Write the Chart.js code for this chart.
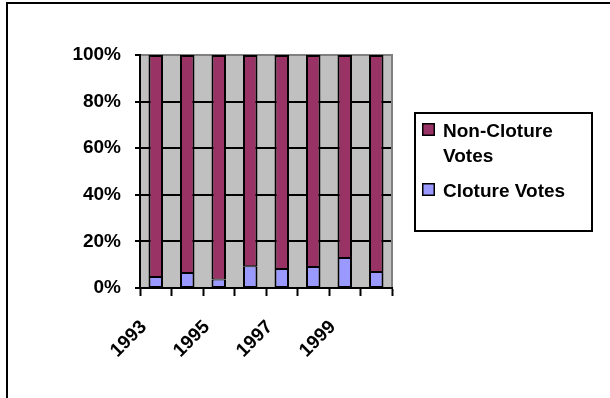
<!DOCTYPE html>
<html>
<head>
<meta charset="utf-8">
<script src="https://cdn.jsdelivr.net/npm/chart.js@4.4.1/dist/chart.umd.min.js"></script>
<style>
  html, body { margin: 0; padding: 0; background: #fff; overflow: hidden; }
  #wrap { position: relative; width: 610px; height: 398px; }
  #c { position: absolute; left: 0; top: 0; }
</style>
</head>
<body>
<div id="wrap">
  <canvas id="c" width="610" height="398"></canvas>
</div>
<script>
// Senate roll-call votes by year, as a share of all votes
const years = ['1993', '1994', '1995', '1996', '1997', '1998', '1999', '2000'];
const clotureVotes    = [4.7, 6.4, 3.6, 9.3, 8.2, 9.0, 12.9, 6.9];
const nonClotureVotes = [95.3, 93.6, 96.4, 90.7, 91.8, 91.0, 87.1, 93.1];
const percentTicks = [0, 20, 40, 60, 80, 100];

const FAMILY = '"Liberation Sans", Arial, sans-serif';
const FONT = { family: FAMILY, size: 19, weight: 'bold' };

// Gray plot background, black gridlines, gray top/right frame; outer frame and boxed legend
const chartDecor = {
  id: 'chartDecor',
  beforeDraw(chart) {
    const { ctx, chartArea: a } = chart;
    const y = chart.scales.y;
    ctx.save();
    ctx.fillStyle = '#c0c0c0';
    ctx.fillRect(a.left, a.top, a.right - a.left, a.bottom - a.top);
    percentTicks.forEach(v => {
      const py = Math.round(y.getPixelForValue(v));
      ctx.fillStyle = '#000';
      ctx.fillRect(a.left - 5, py - 1, 5, 2);
      if (v === 0) return;
      ctx.fillStyle = v === 100 ? '#808080' : '#000';
      ctx.fillRect(a.left, py - 1, a.right - a.left + 1, 2);
    });
    ctx.fillStyle = '#808080';
    ctx.fillRect(a.right - 1, a.top - 1, 2, a.bottom - a.top + 1);
    ctx.restore();
  },
  afterDraw(chart) {
    const { ctx } = chart;
    ctx.save();
    // outer frame, running off the right and bottom edges
    ctx.fillStyle = '#000';
    ctx.fillRect(6, 2, 604, 2);
    ctx.fillRect(6, 2, 2, 396);
    // legend box
    ctx.fillRect(414, 112, 179, 120);
    ctx.fillStyle = '#fff';
    ctx.fillRect(416, 114, 175, 116);
    ctx.font = 'bold 19px ' + FAMILY;
    ctx.textBaseline = 'alphabetic';
    let top = 123;
    [1, 0].forEach(di => {
      const ds = chart.data.datasets[di];
      ctx.fillStyle = '#000';
      ctx.fillRect(422, top, 13, 13);
      ctx.fillStyle = ds.backgroundColor;
      ctx.fillRect(423.5, top + 1.5, 10, 10);
      // wrap the label into lines that fit the box
      const words = ds.label.split(' ');
      const lines = [];
      let cur = '';
      words.forEach(w => {
        const t = cur ? cur + ' ' + w : w;
        if (cur && ctx.measureText(t).width > 142) { lines.push(cur); cur = w; }
        else cur = t;
      });
      lines.push(cur);
      ctx.fillStyle = '#000';
      lines.forEach((ln, k) => ctx.fillText(ln, 443, top + 14 + k * 25));
      top += lines.length * 25 + 10;
    });
    ctx.restore();
  }
};

const chart = new Chart(document.getElementById('c'), {
  type: 'bar',
  data: {
    labels: years,
    datasets: [
      { label: 'Cloture Votes', data: clotureVotes, backgroundColor: '#9999ff',
        borderColor: '#000', borderWidth: { top: 1, right: 2, bottom: 2, left: 2 }, borderSkipped: false },
      { label: 'Non-Cloture Votes', data: nonClotureVotes, backgroundColor: '#993366',
        borderColor: '#000', borderWidth: { top: 2, right: 2, bottom: 1, left: 2 }, borderSkipped: false }
    ]
  },
  options: {
    responsive: false,
    animation: false,
    events: [],
    layout: { padding: { left: 0, top: 55, right: 218, bottom: 0 } },
    datasets: { bar: { categoryPercentage: 1, barPercentage: 0.46 } },
    plugins: { legend: { display: false }, tooltip: { enabled: false } },
    scales: {
      x: {
        stacked: true,
        afterFit(s) { s.height = 110; },
        border: { display: true, color: '#000', width: 2 },
        grid: { offset: true, drawOnChartArea: false, tickLength: 8, tickColor: '#000', tickWidth: 2 },
        ticks: {
          autoSkip: false, minRotation: 45, maxRotation: 45, color: '#000', font: FONT,
          padding: 20, labelOffset: -12,
          callback(v, i) { return i % 2 === 0 ? years[i] : ''; }
        }
      },
      y: {
        stacked: true,
        min: 0, max: 100,
        afterFit(s) { s.width = 140; },
        border: { display: true, color: '#000', width: 2 },
        grid: { display: false, tickLength: 5 },
        ticks: { stepSize: 20, color: '#000', font: FONT, padding: 14, callback: v => v + '%' }
      }
    }
  },
  plugins: [chartDecor]
});
</script>
</body>
</html>
